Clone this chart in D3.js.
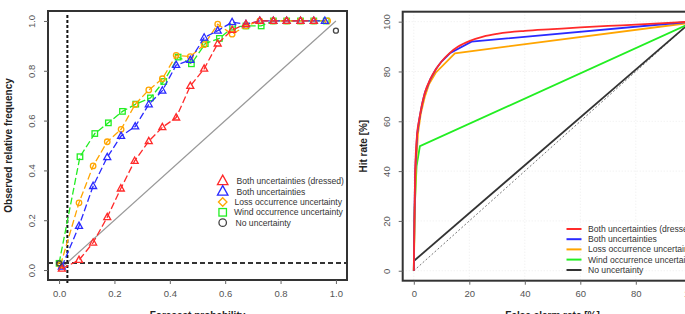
<!DOCTYPE html>
<html>
<head>
<meta charset="utf-8">
<script src="https://cdn.jsdelivr.net/npm/d3@7"></script>
<style>
  body { margin: 0; background: #fff; }
  svg { display: block; font-family: "Liberation Sans", Arial, sans-serif; }
</style>
</head>
<body>
<svg id="chart" width="685" height="314"></svg>
<script>
// reliability diagram (left)
const dressedX = [0.01, 0.072, 0.123, 0.174, 0.223, 0.273, 0.324, 0.373, 0.423, 0.474, 0.524, 0.573, 0.625, 0.675, 0.725, 0.774, 0.822, 0.872, 0.92];
const dressedY = [0.005, 0.04, 0.11, 0.212, 0.327, 0.438, 0.517, 0.573, 0.612, 0.739, 0.808, 0.909, 0.964, 0.987, 1, 1, 1, 1, 1];
const bothX = [0.01, 0.072, 0.123, 0.174, 0.224, 0.275, 0.324, 0.373, 0.423, 0.474, 0.524, 0.573, 0.625, 0.675, 0.725, 0.774, 0.822, 0.872, 0.92, 0.96];
const bothY = [0.013, 0.177, 0.337, 0.453, 0.538, 0.576, 0.665, 0.72, 0.823, 0.843, 0.933, 0.961, 0.995, 0.987, 1, 1, 1, 1, 1, 1];
const lossX = [0.005, 0.072, 0.123, 0.174, 0.224, 0.275, 0.324, 0.373, 0.423, 0.474, 0.524, 0.573, 0.625, 0.675, 0.725, 0.774, 0.822, 0.872, 0.92, 0.97];
const lossY = [0.02, 0.27, 0.418, 0.515, 0.565, 0.665, 0.723, 0.768, 0.862, 0.857, 0.905, 0.987, 0.947, 0.98, 1, 1, 1, 1, 1, 1];
const windX = [0.0, 0.0755, 0.129, 0.178, 0.229, 0.277, 0.33, 0.378, 0.43, 0.478, 0.528, 0.579, 0.627, 0.675, 0.73, 0.774, 0.822, 0.872, 0.92, 0.965];
const windY = [0.027, 0.455, 0.548, 0.591, 0.637, 0.666, 0.691, 0.757, 0.855, 0.828, 0.909, 0.93, 0.975, 0.98, 0.98, 1, 1, 1, 1, 1];
const noneX = [0.0, 1.0];
const noneY = [0.027, 0.961];
const climFreq = 0.03;
const relTicks = [0, 0.2, 0.4, 0.6, 0.8, 1.0];

// ROC curves (right), in percent
const rocDressedX = [0, 0.2, 0.5, 1.2, 2, 3, 4, 6, 8, 10, 13, 16, 20, 25, 30, 40, 50, 60, 70, 80, 90, 100];
const rocDressedY = [0, 20, 40, 55, 61, 67, 71.5, 77, 81, 84, 87.5, 90, 92.2, 94, 95.1, 96.3, 97, 97.7, 98.3, 98.8, 99.4, 100];
const rocBothX = [0, 0.2, 0.5, 1.2, 2, 3, 4, 6, 8, 10, 13, 20.8, 100];
const rocBothY = [0, 20, 40, 55, 61, 67, 71.5, 77, 81, 84, 87.3, 92, 100];
const rocLossX = [0, 0.3, 0.7, 1.5, 2.5, 4, 5.5, 7.9, 14.8, 100];
const rocLossY = [0, 20, 40, 55, 63, 70, 75, 79.5, 87.3, 99.6];
const rocWindX = [0, 0.3, 1, 2.2, 100];
const rocWindY = [0, 25, 42, 50, 99.5];
const rocNoneX = [0, 100];
const rocNoneY = [3.9, 100];
const rocTicks = [0, 20, 40, 60, 80, 100];

const labels = ["Both uncertainties (dressed)", "Both uncertainties", "Loss occurrence uncertainty", "Wind occurrence uncertainty", "No uncertainty"];
const colors = ["#ff2a2a", "#2a2aff", "#ffa500", "#22ee22", "#333333"];

const svg = d3.select("#chart");
const tickColor = "#555";

function drawAxes(g, x, y, ticks, fmt, box, yLabelX, xLabel, yLabel) {
  // x ticks
  const ax = g.append("g").attr("transform", `translate(0,${box.y1})`)
    .call(d3.axisBottom(x).tickValues(ticks).tickSize(4).tickPadding(6).tickFormat(fmt));
  ax.select(".domain").remove();
  ax.selectAll("line").attr("stroke", "#666");
  ax.selectAll("text").attr("fill", tickColor).style("font-size", "9.5px");
  // y ticks, drawn parallel to the axis
  const ay = g.append("g").attr("transform", `translate(${box.x0},0)`)
    .call(d3.axisLeft(y).tickValues(ticks).tickSize(4).tickFormat(fmt));
  ay.select(".domain").remove();
  ay.selectAll("line").attr("stroke", "#666");
  ay.selectAll("text")
    .attr("fill", tickColor).style("font-size", "9.5px")
    .attr("text-anchor", "middle")
    .attr("x", 0).attr("dy", null)
    .attr("transform", `translate(${yLabelX - box.x0},0) rotate(-90)`)
    .attr("y", 0).attr("dominant-baseline", "middle");

  g.append("text")
    .attr("x", (x(0) + x(ticks[ticks.length - 1])) / 2)
    .attr("y", 319)
    .attr("text-anchor", "middle")
    .style("font-size", "10px").style("font-weight", "bold").attr("fill", "#222")
    .text(xLabel);
  g.append("text")
    .attr("transform", `translate(${yLabelX - 20},${(y(0) + y(ticks[ticks.length - 1])) / 2}) rotate(-90)`)
    .attr("text-anchor", "middle")
    .style("font-size", "10px").style("font-weight", "bold").attr("fill", "#222")
    .text(yLabel);
}

function marker(g, shape, cx, cy, size, color) {
  if (shape === "tri") {
    const h = size * 0.9;
    g.append("path")
      .attr("d", `M${cx},${cy - h * 0.62}L${cx + size / 2},${cy + h * 0.38}L${cx - size / 2},${cy + h * 0.38}Z`)
      .attr("fill", "none").attr("stroke", color).attr("stroke-width", 1.3);
  } else if (shape === "circ") {
    g.append("circle").attr("cx", cx).attr("cy", cy).attr("r", size / 2)
      .attr("fill", "none").attr("stroke", color).attr("stroke-width", 1.3);
  } else if (shape === "sq") {
    g.append("rect").attr("x", cx - size / 2).attr("y", cy - size / 2)
      .attr("width", size).attr("height", size)
      .attr("fill", "none").attr("stroke", color).attr("stroke-width", 1.3);
  } else if (shape === "dia") {
    const r = size / 2 + 0.5;
    g.append("path").attr("d", `M${cx},${cy - r}L${cx + r},${cy}L${cx},${cy + r}L${cx - r},${cy}Z`)
      .attr("fill", "none").attr("stroke", color).attr("stroke-width", 1.3);
  }
}

// ---------- left panel ----------
{
  const box = { x0: 48, x1: 347, y0: 11, y1: 280 };
  const x = d3.scaleLinear().domain([-0.04, 1.04]).range([box.x0, box.x1]);
  const y = d3.scaleLinear().domain([-0.04, 1.04]).range([box.y1, box.y0]);
  const g = svg.append("g");

  // diagonal
  g.append("line")
    .attr("x1", x(0)).attr("y1", y(0)).attr("x2", x(1)).attr("y2", y(1))
    .attr("stroke", "#999").attr("stroke-width", 1.2);

  // climatology lines
  g.append("line")
    .attr("x1", x(climFreq)).attr("x2", x(climFreq)).attr("y1", box.y0 + 4).attr("y2", box.y1 + 4)
    .attr("stroke", "#111").attr("stroke-width", 2).attr("stroke-dasharray", "3,2");
  g.append("line")
    .attr("x1", x(-0.04)).attr("x2", x(1.04)).attr("y1", y(climFreq - 0.002)).attr("y2", y(climFreq - 0.002))
    .attr("stroke", "#333").attr("stroke-width", 2).attr("stroke-dasharray", "5,3");

  const series = [
    { xs: windX, ys: windY, c: colors[3], s: "sq", size: 5.5 },
    { xs: lossX, ys: lossY, c: colors[2], s: "circ", size: 5.5 },
    { xs: bothX, ys: bothY, c: colors[1], s: "tri", size: 7 },
    { xs: dressedX, ys: dressedY, c: colors[0], s: "tri", size: 7 }
  ];
  const line = d3.line().x(d => x(d[0])).y(d => y(d[1]));
  series.forEach(s => {
    const pts = s.xs.map((v, i) => [v, s.ys[i]]);
    g.append("path").attr("d", line(pts))
      .attr("fill", "none").attr("stroke", s.c).attr("stroke-width", 1.3)
      .attr("stroke-dasharray", "7,3");
    pts.forEach(p => marker(g, s.s, x(p[0]), y(p[1]), s.size, s.c));
  });
  noneX.forEach((v, i) => marker(g, "circ", x(v), y(noneY[i]), 5, "#444"));

  g.append("rect")
    .attr("x", box.x0).attr("y", box.y0)
    .attr("width", box.x1 - box.x0).attr("height", box.y1 - box.y0)
    .attr("fill", "none").attr("stroke", "#333").attr("stroke-width", 2);

  drawAxes(g, x, y, relTicks, d3.format(".1f"), box, 32, "Forecast probability", "Observed relative frequency");

  // legend
  const shapes = ["tri", "tri", "dia", "sq", "circ"];
  const legY = [181, 191.5, 202, 212.3, 222.7];
  const textX = [236.5, 236.5, 234.5, 234, 235.5];
  labels.forEach((lab, i) => {
    marker(g, shapes[i], 222.7, legY[i], shapes[i] === "tri" ? 10.5 : 7.5, colors[i] === "#333333" ? "#444" : colors[i]);
    g.append("text").attr("x", textX[i]).attr("y", legY[i]).attr("dy", "0.35em")
      .style("font-size", "8.6px").attr("fill", "#333").text(lab);
  });
}

// ---------- right panel ----------
{
  const box = { x0: 402.7, x1: 702.4, y0: 11.7, y1: 280.7 };
  const x = d3.scaleLinear().domain([-4, 104]).range([box.x0, box.x1]);
  const y = d3.scaleLinear().domain([-4, 104]).range([box.y1, box.y0]);
  const g = svg.append("g");

  // faint grid
  rocTicks.forEach(t => {
    g.append("line").attr("x1", x(t)).attr("x2", x(t)).attr("y1", box.y0).attr("y2", box.y1)
      .attr("stroke", "#ececec").attr("stroke-width", 1).attr("stroke-dasharray", "1,2");
    g.append("line").attr("x1", box.x0).attr("x2", box.x1).attr("y1", y(t)).attr("y2", y(t))
      .attr("stroke", "#ececec").attr("stroke-width", 1).attr("stroke-dasharray", "1,2");
  });

  g.append("line")
    .attr("x1", x(0)).attr("y1", y(0)).attr("x2", x(100)).attr("y2", y(100))
    .attr("stroke", "#777").attr("stroke-width", 1).attr("stroke-dasharray", "2,2");

  const line = d3.line().x(d => x(d[0])).y(d => y(d[1]));
  const curves = [
    { xs: rocNoneX, ys: rocNoneY, c: colors[4], curve: d3.curveLinear },
    { xs: rocWindX, ys: rocWindY, c: colors[3], curve: d3.curveLinear },
    { xs: rocLossX, ys: rocLossY, c: colors[2], curve: d3.curveLinear },
    { xs: rocBothX, ys: rocBothY, c: colors[1], curve: d3.curveLinear },
    { xs: rocDressedX, ys: rocDressedY, c: colors[0], curve: d3.curveMonotoneX }
  ];
  curves.forEach(cv => {
    g.append("path")
      .attr("d", line.curve(cv.curve)(cv.xs.map((v, i) => [v, cv.ys[i]])))
      .attr("fill", "none").attr("stroke", cv.c).attr("stroke-width", 1.8);
  });

  g.append("rect")
    .attr("x", box.x0).attr("y", box.y0)
    .attr("width", box.x1 - box.x0).attr("height", box.y1 - box.y0)
    .attr("fill", "none").attr("stroke", "#333").attr("stroke-width", 2);

  drawAxes(g, x, y, rocTicks, d3.format("d"), box, 387, "False alarm rate [%]", "Hit rate [%]");

  const legY = [229, 239.2, 249.4, 259.6, 270];
  labels.forEach((lab, i) => {
    g.append("line").attr("x1", 566.5).attr("x2", 581.5).attr("y1", legY[i]).attr("y2", legY[i])
      .attr("stroke", colors[i]).attr("stroke-width", 2);
    g.append("text").attr("x", 588).attr("y", legY[i]).attr("dy", "0.35em")
      .style("font-size", "8.6px").attr("fill", "#333").text(lab);
  });
}
</script>
</body>
</html>
